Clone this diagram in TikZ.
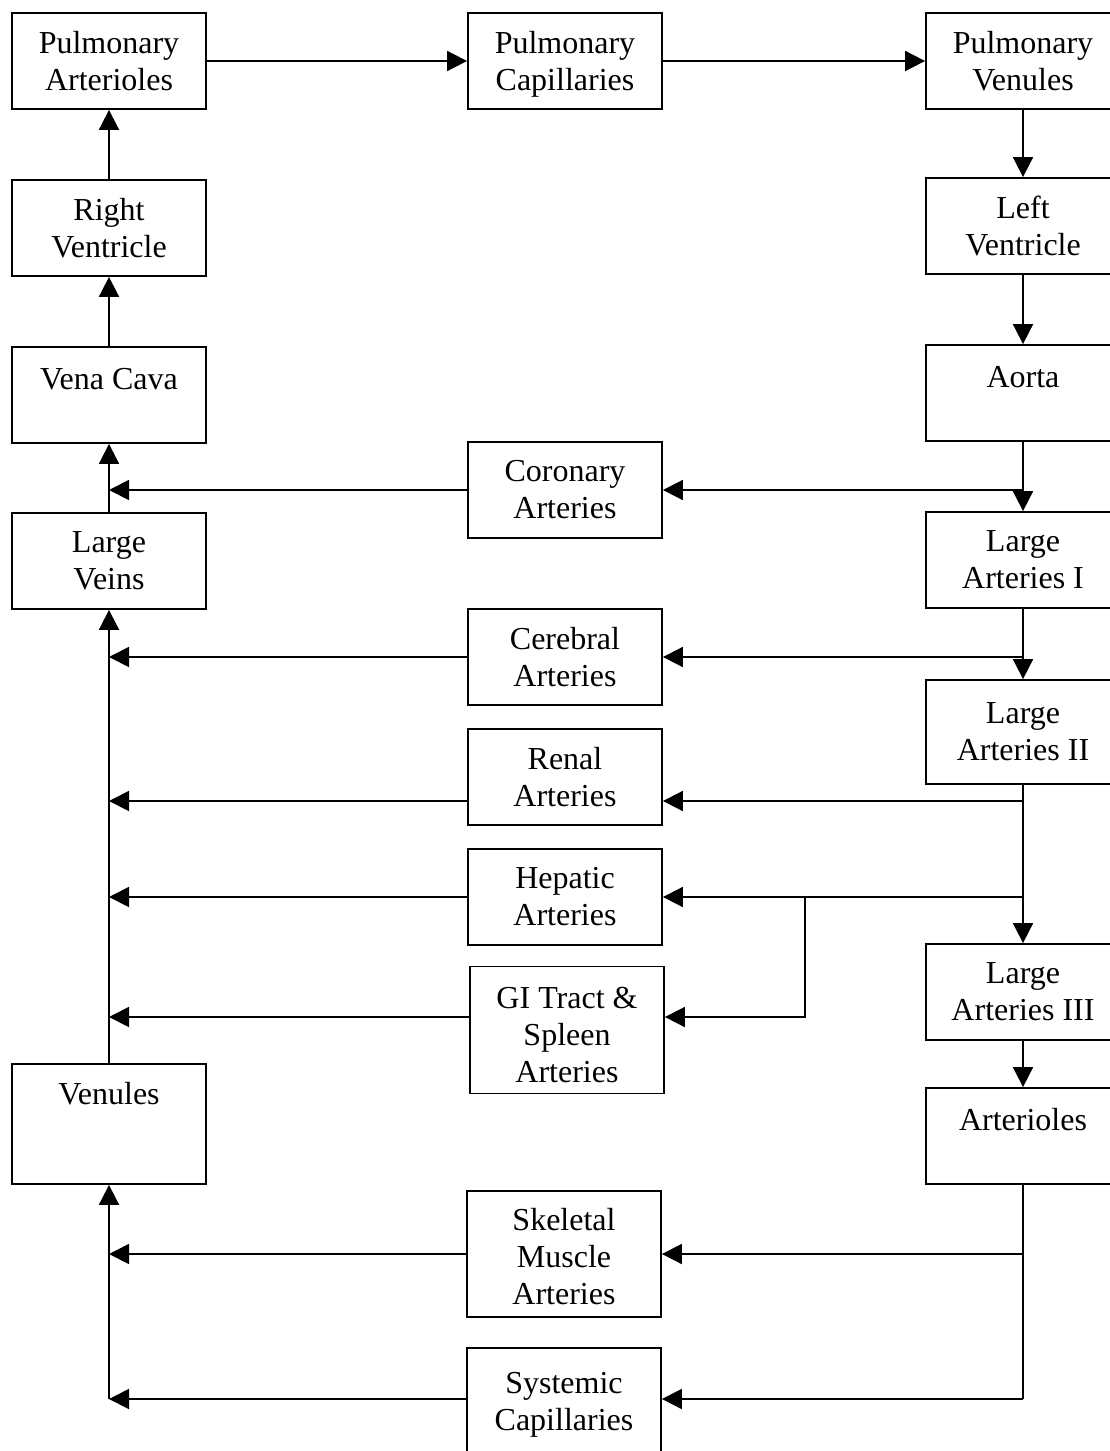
\documentclass[tikz,border=0pt]{standalone}
\usepackage{fontspec}
\setmainfont{Liberation Serif}
\usetikzlibrary{arrows.meta}
\begin{document}
\begin{tikzpicture}[x=1pt,y=-1pt,
  box/.style={draw, line width=1.8pt, minimum width=194pt, minimum height=96pt, align=center, inner sep=0pt, font=\fontsize{32}{37}\selectfont},
  lbl/.style={anchor=base, inner sep=0pt, font=\fontsize{32}{37}\selectfont},
  arr/.style={line width=1.8pt, -{Triangle[length=20pt,width=20pt]}},
  ln/.style={line width=1.8pt}]
\clip (0,0) rectangle (1110,1451);
% left column
\node[box] (pa) at (109,61) {Pulmonary\\Arterioles};
\node[box] (rv) at (109,228) {Right\\Ventricle};
\node[box] (vc) at (109,395) {};
\node[lbl] (vct) at ([yshift=-43pt]vc.north) {Vena Cava};
\node[box] (lvn) at (109,561) {Large\\Veins};
\node[box, minimum height=120pt] (ven) at (109,1124) {};
\node[lbl] (vent) at ([yshift=-41pt]ven.north) {Venules};
% middle column
\node[box] (pc) at (565,61) {Pulmonary\\\smash{Capillaries}};
\node[box] (cor) at (565,490) {Coronary\\Arteries};
\node[box] (cer) at (565,657) {Cerebral\\Arteries};
\node[box] (ren) at (565,777) {Renal\\Arteries};
\node[box] (hep) at (565,897) {Hepatic\\Arteries};
\node[box, minimum height=127pt] (gi) at (567,1030) {\rule{0pt}{32pt}GI Tract \&\\Spleen\\Arteries};
\node[box, minimum height=126pt] (skm) at (564,1254) {\rule{0pt}{28pt}Skeletal\\Muscle\\Arteries};
\node[box, minimum height=106pt] (sys) at (564,1401) {Systemic\\\smash{Capillaries}};
% right column
\node[box] (pv) at (1023,61) {Pulmonary\\Venules};
\node[box] (lvt) at (1023,226) {Left\\Ventricle};
\node[box] (ao) at (1023,393) {};
\node[lbl] (aot) at ([yshift=-43pt]ao.north) {Aorta};
\node[box] (la1) at (1023,560) {Large\\Arteries I};
\node[box, minimum height=104pt] (la2) at (1023,732) {Large\\Arteries II};
\node[box] (la3) at (1023,992) {Large\\Arteries III};
\node[box] (art) at (1023,1136) {};
\node[lbl] (artt) at ([yshift=-43pt]art.north) {Arterioles};
% top row
\draw[arr] (pa.east) -- (pc.west);
\draw[arr] (pc.east) -- (pv.west);
% right trunk
\draw[arr] (pv.south) -- (lvt.north);
\draw[arr] (lvt.south) -- (ao.north);
\draw[arr] (ao.south) -- (la1.north);
\draw[arr] (la1.south) -- (la2.north);
\draw[arr] (la2.south) -- (la3.north);
\draw[arr] (la3.south) -- (art.north);
% right branches
\coordinate (jc) at (ao.south |- cor.east);
\draw[arr] (jc) -- (cor.east);
\coordinate (jce) at (la1.south |- cer.east);
\draw[arr] (jce) -- (cer.east);
\coordinate (jr) at (1023,801);
\draw[arr] (jr) -- (jr -| ren.east);
\coordinate (jh) at (la2.south |- hep.east);
\draw[arr] (jh) -- (hep.east);
\coordinate (jg) at (805,897);
\coordinate (jg2) at (805,1017);
\draw[arr] (jg) -- (jg2) -- (jg2 -| gi.east);
\coordinate (jsys) at (1023,1399);
\draw[ln] (art.south) -- (jsys);
\draw[arr] (art.south |- skm.east) -- (skm.east);
\draw[arr] (jsys) -- (jsys -| sys.east);
% left trunk
\draw[arr] (vc.north) -- (rv.south);
\draw[arr] (rv.north) -- (pa.south);
\draw[arr] (lvn.north) -- (vc.south);
\draw[arr] (cor.west) -- (cor.west -| lvn.north);
\draw[arr] (ven.north) -- (lvn.south);
\draw[arr] (cer.west) -- (cer.west -| ven.north);
\draw[arr] (ren.west |- jr) -- (jr -| ven.north);
\draw[arr] (hep.west) -- (hep.west -| ven.north);
\draw[arr] (gi.west |- jg2) -- (jg2 -| ven.north);
\coordinate (lsys) at (109,1399);
\draw[arr] (lsys) -- (ven.south);
\draw[arr] (skm.west) -- (skm.west -| ven.south);
\draw[arr] (sys.west |- lsys) -- (lsys);
\end{tikzpicture}
\end{document}
